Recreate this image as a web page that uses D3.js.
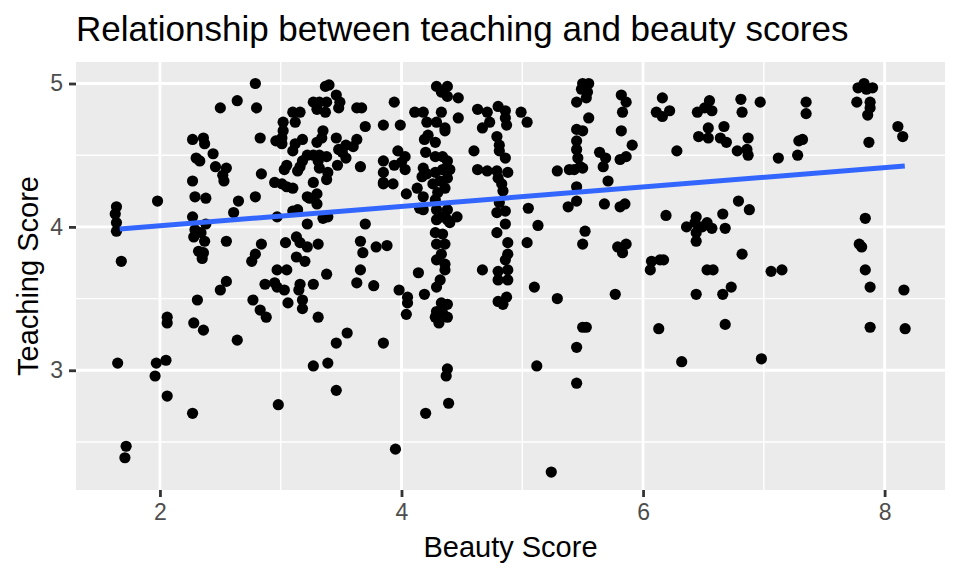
<!DOCTYPE html>
<html>
<head>
<meta charset="utf-8">
<script src="https://cdn.jsdelivr.net/npm/d3@7"></script>
<style>
  html, body { margin: 0; padding: 0; background: #ffffff; }
  svg { display: block; font-family: "Liberation Sans", Arial, Helvetica, sans-serif; }
</style>
</head>
<body>
<svg id="chart" width="960" height="576"></svg>
<script>
'use strict';

// values (bty_avg vs teaching score)
const beauty = [
  2.64,2.50,2.27,2.36,2.37,2.44,2.30,2.33,2.46,2.55,
  2.52,2.53,2.27,2.29,2.38,1.98,2.65,1.64,1.63,1.64,
  1.64,2.61,2.27,2.38,2.29,2.34,2.28,2.37,2.32,2.36,
  2.35,2.55,1.68,2.55,2.50,2.31,2.06,2.06,2.28,2.36,
  2.64,1.65,1.97,2.05,1.96,2.06,2.27,1.72,1.71,2.79,
  2.80,3.37,3.40,3.46,3.49,3.48,3.27,3.32,3.38,3.30,
  3.37,3.63,3.67,3.10,3.16,3.12,3.70,3.85,3.02,3.02,
  3.01,3.35,3.34,2.83,2.96,3.01,3.18,3.12,3.10,3.30,
  3.46,3.63,3.60,3.54,3.48,3.51,3.54,3.22,3.27,3.32,
  3.38,3.31,3.32,3.18,3.16,3.14,3.05,3.03,3.47,3.66,
  3.85,2.84,3.39,3.38,2.95,3.01,3.05,3.10,3.27,3.85,
  3.22,3.30,3.30,3.24,2.79,2.97,3.10,3.14,3.35,3.39,
  3.22,3.70,2.84,2.79,2.76,3.04,3.13,3.16,3.22,3.31,
  3.13,3.20,3.66,3.68,3.79,2.97,3.05,3.38,3.66,2.87,
  2.95,2.97,3.03,3.16,3.15,3.27,3.63,3.77,2.77,2.83,
  2.88,3.06,3.18,3.18,3.31,3.55,3.46,3.85,3.27,3.39,
  3.46,2.98,4.29,4.38,4.33,4.38,4.47,3.94,4.11,4.18,
  4.33,4.47,4.21,4.29,4.36,4.36,3.99,4.63,4.71,4.80,
  4.86,4.86,4.87,4.73,4.67,4.99,4.22,4.19,4.28,4.79,
  4.81,4.81,4.86,4.60,3.97,4.03,4.20,4.28,4.34,4.38,
  4.40,4.34,4.28,4.38,4.32,4.26,4.36,4.18,4.21,4.17,
  3.94,4.00,4.03,3.85,3.85,3.93,4.04,4.13,4.18,4.15,
  4.18,4.63,4.71,4.79,4.88,4.80,4.83,4.84,4.81,4.30,
  4.28,4.29,4.38,4.33,4.29,4.38,4.46,4.40,4.79,4.86,
  4.86,4.79,4.28,4.34,4.29,4.36,4.88,4.33,4.29,4.36,
  4.88,4.86,3.88,4.14,4.67,4.80,4.88,4.36,4.32,4.29,
  4.80,4.88,3.98,4.05,4.05,4.19,4.33,4.38,4.29,4.34,
  4.38,4.31,4.28,4.04,4.80,4.87,4.84,4.38,4.37,4.39,
  4.20,3.95,5.04,5.50,5.55,5.49,5.54,5.53,5.45,5.55,
  5.45,5.50,5.45,5.45,5.46,5.48,5.39,5.43,5.50,5.29,
  5.82,5.86,5.83,5.82,5.91,5.86,5.81,5.64,5.69,5.67,
  6.11,5.71,5.45,5.45,5.38,5.68,5.81,5.85,5.05,5.13,
  5.04,5.52,5.50,5.79,5.86,5.83,6.07,6.06,6.14,5.10,
  5.29,5.77,5.50,5.53,5.45,5.12,5.45,5.24,6.13,6.16,
  6.22,6.16,6.55,6.51,6.45,6.57,6.81,6.82,6.97,6.54,
  6.46,6.54,6.67,6.64,6.69,6.87,6.78,6.86,6.87,6.28,
  7.12,6.79,6.88,6.19,6.66,6.44,6.36,6.43,6.49,6.53,
  6.57,6.44,6.44,6.68,6.82,6.17,6.53,6.58,7.06,7.15,
  6.44,6.66,6.73,6.68,6.32,6.98,7.35,7.35,7.32,7.29,
  7.28,7.83,7.78,7.85,7.90,7.77,7.88,7.88,7.86,8.11,
  8.15,7.87,7.84,7.79,7.81,7.84,7.88,8.16,7.88,8.17
];

const score = [
  4.88,4.83,4.61,4.62,4.58,4.51,4.48,4.46,4.42,4.41,
  4.36,4.32,4.32,4.21,4.20,4.18,4.18,4.14,4.09,4.03,
  3.97,4.10,4.07,4.02,3.98,3.96,3.93,3.90,3.83,3.82,
  3.78,3.90,3.76,3.62,3.56,3.49,3.37,3.33,3.33,3.28,
  3.21,3.05,3.05,3.07,2.96,2.82,2.70,2.47,2.39,5.00,
  4.83,4.98,4.99,4.92,4.87,4.83,4.87,4.87,4.87,4.82,
  4.80,4.83,4.83,4.80,4.80,4.73,4.70,4.71,4.73,4.67,
  4.62,4.67,4.62,4.62,4.60,4.58,4.61,4.58,4.53,4.59,
  4.62,4.61,4.56,4.57,4.54,4.52,4.48,4.50,4.50,4.50,
  4.49,4.46,4.41,4.46,4.42,4.39,4.43,4.40,4.43,4.42,
  4.46,4.37,4.38,4.33,4.31,4.30,4.28,4.27,4.31,4.31,
  4.21,4.23,4.16,4.20,4.21,4.07,4.11,4.12,4.06,4.07,
  4.02,4.02,3.88,3.81,3.76,3.89,3.93,3.89,3.86,3.88,
  3.79,3.76,3.90,3.82,3.86,3.70,3.70,3.67,3.70,3.60,
  3.61,3.58,3.56,3.60,3.56,3.60,3.61,3.59,3.49,3.42,
  3.37,3.47,3.49,3.43,3.37,3.26,3.19,3.19,3.03,3.05,
  2.86,2.76,4.98,4.98,4.94,4.91,4.90,4.87,4.80,4.80,
  4.80,4.76,4.73,4.73,4.69,4.67,4.71,4.82,4.80,4.84,
  4.81,4.76,4.71,4.73,4.69,4.80,4.64,4.61,4.59,4.63,
  4.57,4.53,4.48,4.53,4.53,4.49,4.52,4.49,4.49,4.46,
  4.40,4.40,4.38,4.34,4.32,4.30,4.27,4.41,4.37,4.35,
  4.43,4.45,4.40,4.38,4.30,4.30,4.23,4.27,4.21,4.13,
  4.12,4.40,4.39,4.39,4.38,4.34,4.30,4.25,4.17,4.24,
  4.19,4.12,4.12,4.07,4.05,4.05,4.07,4.03,4.10,4.11,
  4.02,3.96,3.96,3.95,3.88,3.88,3.89,3.81,3.77,3.74,
  3.81,3.77,3.87,3.68,3.70,3.69,3.70,3.70,3.63,3.58,
  3.63,3.63,3.56,3.51,3.47,3.53,3.47,3.46,3.41,3.40,
  3.37,3.33,3.37,3.39,3.48,3.51,3.46,3.01,2.96,2.77,
  2.70,2.45,4.73,5.00,5.00,4.96,4.94,4.90,4.87,4.76,
  4.68,4.67,4.60,4.54,4.48,4.42,4.40,4.40,4.41,4.39,
  4.92,4.87,4.80,4.67,4.57,4.49,4.47,4.52,4.48,4.42,
  4.80,4.32,4.28,4.18,4.14,4.16,4.14,4.16,4.13,4.01,
  3.89,3.97,3.88,3.86,3.88,3.82,3.76,3.70,3.77,3.58,
  3.50,3.53,3.30,3.30,3.16,3.03,2.91,2.29,3.29,4.90,
  4.81,4.77,4.88,4.83,4.80,4.81,4.89,4.80,4.87,4.69,
  4.63,4.62,4.70,4.62,4.59,4.62,4.53,4.54,4.50,4.53,
  4.48,4.18,4.12,4.08,4.09,4.07,4.00,4.03,4.00,4.03,
  3.99,3.96,3.90,3.99,3.81,3.77,3.70,3.70,3.69,3.70,
  3.53,3.53,3.58,3.32,3.06,3.08,4.87,4.79,4.61,4.60,
  4.50,5.00,4.97,4.96,4.97,4.87,4.87,4.83,4.78,4.70,
  4.63,4.59,4.06,3.88,3.86,3.70,3.58,3.56,3.30,3.29
];

// fitted lm line, ends
const fitBeauty = [1.667, 8.167];
const fitScore = [3.985, 4.425];

const xTicks = [2, 4, 6, 8];
const xMinor = [3, 5, 7];
const yTicks = [3, 4, 5];
const yMinor = [2.5, 3.5, 4.5];

const titleText = "Relationship between teaching and beauty scores";
const xLabel = "Beauty Score";
const yLabel = "Teaching Score";

let svg = d3.select("#chart"),
    panel = {left: 76, right: 945, top: 62, bottom: 490};

let x = d3.scaleLinear()
    .domain([1.305, 8.50])
    .range([panel.left, panel.right]);

let y = d3.scaleLinear()
    .domain([2.165, 5.15])
    .range([panel.bottom, panel.top]);

svg.append("rect")
    .attr("x", panel.left)
    .attr("y", panel.top)
    .attr("width", panel.right - panel.left)
    .attr("height", panel.bottom - panel.top)
    .attr("fill", "#EBEBEB");

let grid = svg.append("g").attr("stroke", "#ffffff").attr("fill", "none");

grid.selectAll(".xminor").data(xMinor).enter().append("line")
    .attr("x1", d => x(d)).attr("x2", d => x(d))
    .attr("y1", panel.top).attr("y2", panel.bottom)
    .attr("stroke-width", 1.4);
grid.selectAll(".yminor").data(yMinor).enter().append("line")
    .attr("y1", d => y(d)).attr("y2", d => y(d))
    .attr("x1", panel.left).attr("x2", panel.right)
    .attr("stroke-width", 1.4);
grid.selectAll(".xmajor").data(xTicks).enter().append("line")
    .attr("x1", d => x(d)).attr("x2", d => x(d))
    .attr("y1", panel.top).attr("y2", panel.bottom)
    .attr("stroke-width", 2.8);
grid.selectAll(".ymajor").data(yTicks).enter().append("line")
    .attr("y1", d => y(d)).attr("y2", d => y(d))
    .attr("x1", panel.left).attr("x2", panel.right)
    .attr("stroke-width", 2.8);

// points
svg.append("g")
    .selectAll("circle")
    .data(beauty.map((b, i) => ({b: b, s: score[i]})))
    .enter()
    .append("circle")
        .attr("cx", d => x(d.b))
        .attr("cy", d => y(d.s))
        .attr("r", 5.6)
        .attr("fill", "#000000");

// regression line
let line = d3.line()
    .x(d => x(d[0]))
    .y(d => y(d[1]));

svg.append("path")
    .datum(fitBeauty.map((b, i) => [b, fitScore[i]]))
    .attr("d", line)
    .attr("fill", "none")
    .attr("stroke", "#3366FF")
    .attr("stroke-width", 5);

// axes
let xAxis = svg.append("g")
    .attr("transform", "translate(0," + panel.bottom + ")")
    .call(d3.axisBottom(x).tickValues(xTicks).tickSize(7).tickPadding(7).tickFormat(d3.format("d")));

let yAxis = svg.append("g")
    .attr("transform", "translate(" + panel.left + ",0)")
    .call(d3.axisLeft(y).tickValues(yTicks).tickSize(7).tickPadding(6).tickFormat(d3.format("d")));

[xAxis, yAxis].forEach(a => {
    a.select(".domain").remove();
    a.selectAll(".tick line").attr("stroke", "#333333").attr("stroke-width", 2.8);
    a.selectAll(".tick text")
        .attr("fill", "#4D4D4D")
        .style("font-size", "23px")
        .style("font-family", "'Liberation Sans', Arial, sans-serif");
});

// titles
svg.append("text")
    .attr("x", panel.left)
    .attr("y", 41)
    .attr("fill", "#000000")
    .style("font-size", "35px")
    .text(titleText);

svg.append("text")
    .attr("x", (panel.left + panel.right) / 2)
    .attr("y", 557)
    .attr("text-anchor", "middle")
    .attr("fill", "#000000")
    .style("font-size", "29px")
    .text(xLabel);

svg.append("text")
    .attr("transform", "translate(38," + ((panel.top + panel.bottom) / 2) + ") rotate(-90)")
    .attr("text-anchor", "middle")
    .attr("fill", "#000000")
    .style("font-size", "29px")
    .text(yLabel);
</script>
</body>
</html>
